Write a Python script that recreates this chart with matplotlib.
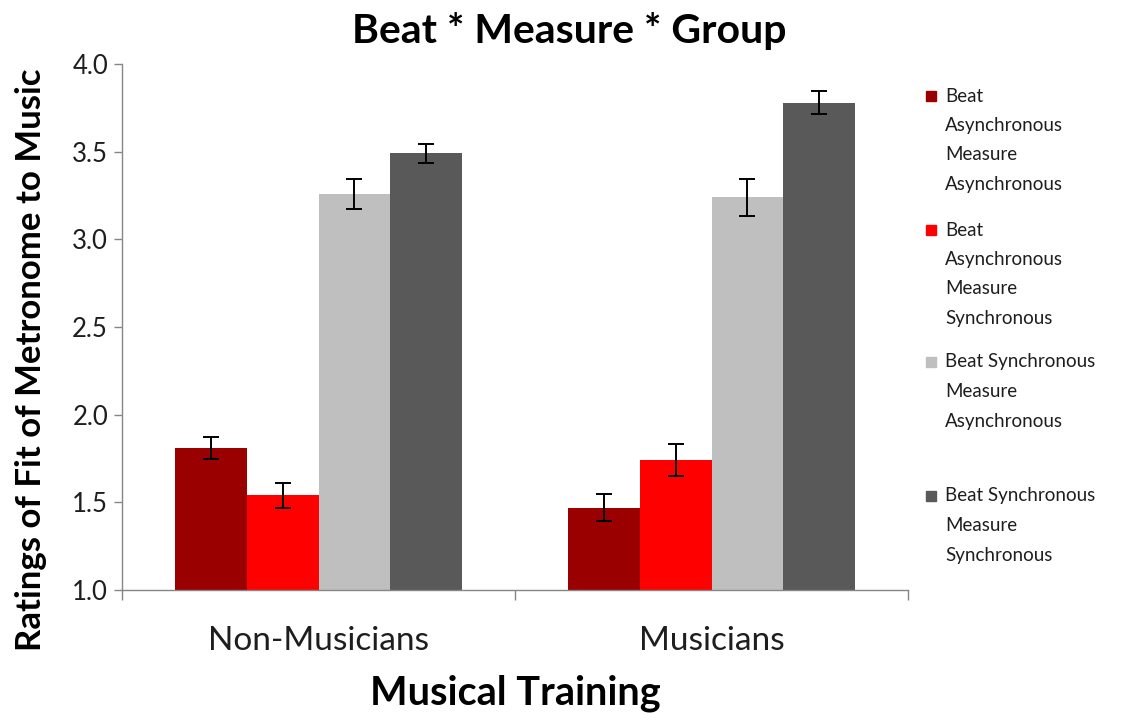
import matplotlib
matplotlib.use("Agg")
import matplotlib.pyplot as plt
import numpy as np
from matplotlib.patches import Rectangle

# Data
groups = ["Non-Musicians", "Musicians"]
series_labels = [
    "Beat\nAsynchronous\nMeasure\nAsynchronous",
    "Beat\nAsynchronous\nMeasure\nSynchronous",
    "Beat Synchronous\nMeasure\nAsynchronous",
    "Beat Synchronous\nMeasure\nSynchronous",
]
beat_async_measure_async = [1.81, 1.47]
beat_async_measure_sync = [1.54, 1.74]
beat_sync_measure_async = [3.26, 3.24]
beat_sync_measure_sync = [3.49, 3.78]

err_beat_async_measure_async = [0.06, 0.075]
err_beat_async_measure_sync = [0.07, 0.09]
err_beat_sync_measure_async = [0.085, 0.105]
err_beat_sync_measure_sync = [0.055, 0.065]

y_ticks = [1.0, 1.5, 2.0, 2.5, 3.0, 3.5, 4.0]

series = [beat_async_measure_async, beat_async_measure_sync,
          beat_sync_measure_async, beat_sync_measure_sync]
errors = [err_beat_async_measure_async, err_beat_async_measure_sync,
          err_beat_sync_measure_async, err_beat_sync_measure_sync]
colors = ["#9a0000", "#ff0000", "#bfbfbf", "#595959"]

plt.rcParams["font.family"] = ["Lato", "DejaVu Sans"]

W, H = 1125, 714
fig = plt.figure(figsize=(W / 100, H / 100), dpi=100)
ax = fig.add_axes([122 / W, 1 - 590 / H, (908 - 122) / W, (590 - 64) / H])

x = np.arange(len(groups))
bar_w = 0.182
offsets = (np.arange(len(series)) - 1.5) * bar_w
for vals, errs, col, off in zip(series, errors, colors, offsets):
    ax.bar(x + off, vals, width=bar_w, bottom=0, color=col, edgecolor="none",
           zorder=2)
    ax.errorbar(x + off, vals, yerr=errs, fmt="none", ecolor="black",
                elinewidth=1.4, capsize=5.5, capthick=1.4, zorder=3)

text_col = "#1e1e1e"
ax.set_xlim(-0.5, 1.5)
ax.set_ylim(1.0, 4.0)
ax.set_yticks(y_ticks)
ax.set_yticklabels([f"{t:.1f}" for t in y_ticks], fontsize=18.5, color=text_col)
ax.set_xticks(x)
ax.set_xticklabels(groups, fontsize=24, color=text_col)
ax.set_xticks([-0.5, 0.5, 1.5], minor=True)
ax.tick_params(axis="x", which="major", length=0, pad=26)
ax.tick_params(axis="x", which="minor", length=7, color="#868686", width=1)
ax.tick_params(axis="y", length=6, color="#868686", width=1, pad=4)

for s in ["top", "right"]:
    ax.spines[s].set_visible(False)
for s in ["left", "bottom"]:
    ax.spines[s].set_color("#868686")
    ax.spines[s].set_linewidth(1)

fig.text(569 / W, 1 - 31 / H, "Beat * Measure * Group", ha="center",
         va="center", fontsize=29.5, fontweight="bold", color="black")
fig.text(31 / W, 1 - 360 / H, "Ratings of Fit of Metronome to Music",
         rotation=90, ha="center", va="center", fontsize=25,
         fontweight="bold", color="black")
fig.text(515 / W, 1 - 693 / H, "Musical Training", ha="center",
         va="center", fontsize=28.5, fontweight="bold", color="black")

# Legend: square marker beside the first line of each entry
entry_tops = [96, 230, 362, 496]
line_step = 29.5
for label, col, y0 in zip(series_labels, colors, entry_tops):
    fig.patches.append(Rectangle((926 / W, 1 - (y0 + 5) / H), 10 / W, 10 / H,
                                 transform=fig.transFigure, color=col))
    for k, line in enumerate(label.split("\n")):
        fig.text(945 / W, 1 - (y0 + k * line_step) / H, line, ha="left",
                 va="center", fontsize=13.5, color=text_col)

fig.savefig("out.png", dpi=100, facecolor="white")
